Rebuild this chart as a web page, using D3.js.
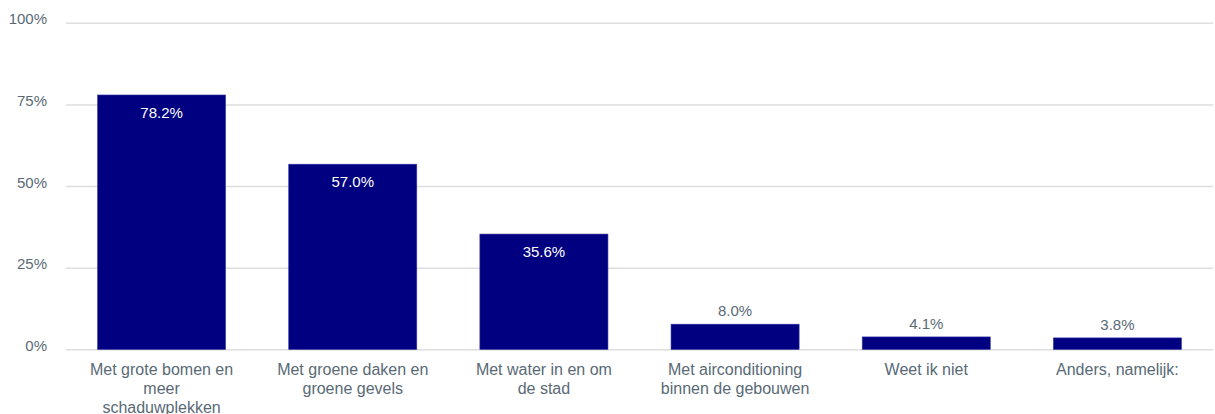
<!DOCTYPE html>
<html><head><meta charset="utf-8">
<script src="https://cdn.jsdelivr.net/npm/d3@7"></script>
<style>
body{margin:0;background:#fff;}
text{font-family:"Liberation Sans",Arial,sans-serif;}
</style></head>
<body>
<svg id="chart" width="1215" height="414"></svg>
<script>
const categories = [
  "Met grote bomen en|meer|schaduwplekken",
  "Met groene daken en|groene gevels",
  "Met water in en om|de stad",
  "Met airconditioning|binnen de gebouwen",
  "Weet ik niet",
  "Anders, namelijk:"
];
const values = [78.2, 57.0, 35.6, 8.0, 4.1, 3.8];
const tickValues = [0, 25, 50, 75, 100];

const W = 1215, H = 414;
const m = {left: 66, right: 2, top: 23.8, bottom: 63.7};
const svg = d3.select("#chart");
const x = d3.scaleBand().domain(categories).range([m.left, W - m.right]).paddingInner(0.33).paddingOuter(0.165);
const y = d3.scaleLinear().domain([0, 100]).range([H - m.bottom, m.top]);
const textCol = "#596a76";

// gridlines
svg.append("g").selectAll("line").data(tickValues).join("line")
  .attr("x1", m.left).attr("x2", W - m.right)
  .attr("y1", d => y(d) - 0.5).attr("y2", d => y(d) - 0.5)
  .attr("stroke", "#dedede").attr("stroke-width", 1.5);

// y axis labels
const yAxis = d3.axisLeft(y).tickValues(tickValues).tickFormat(d => d + "%").tickSize(0).tickPadding(19);
const ya = svg.append("g").attr("transform", `translate(${m.left},0)`).call(yAxis);
ya.select(".domain").remove();
ya.selectAll("text").attr("fill", textCol).style("font-size", "15px").attr("dy", "0.0em");

// bars
svg.append("g").selectAll("rect").data(values).join("rect")
  .attr("x", (d, i) => x(categories[i])).attr("width", x.bandwidth())
  .attr("y", d => y(d)).attr("height", d => y(0) - y(d) - 0.8)
  .attr("fill", "#000080").attr("stroke", "#3a3aa8").attr("stroke-width", 0.6);

// value labels
svg.append("g").selectAll("text").data(values).join("text")
  .attr("x", (d, i) => x(categories[i]) + x.bandwidth() / 2)
  .attr("y", d => d > 20 ? y(d) + 23 : y(d) - 8)
  .attr("text-anchor", "middle")
  .attr("fill", d => d > 20 ? "#ffffff" : textCol)
  .style("font-size", "15px")
  .text(d => d.toFixed(1) + "%");

// category labels
const cg = svg.append("g").selectAll("text").data(categories).join("text")
  .attr("x", d => x(d) + x.bandwidth() / 2)
  .attr("y", y(0) + 25)
  .attr("text-anchor", "middle").attr("fill", textCol).style("font-size", "16px");
cg.each(function(d) {
  const t = d3.select(this);
  d.split("|").forEach((line, i) => {
    t.append("tspan").attr("x", x(d) + x.bandwidth() / 2).attr("dy", i === 0 ? 0 : 18.7).text(line);
  });
});
</script>
</body></html>
